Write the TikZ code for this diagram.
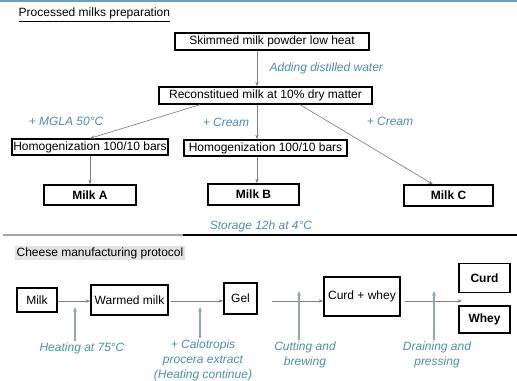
\documentclass[tikz,border=0pt]{standalone}
\usepackage{fontspec}
\setmainfont{Liberation Sans}
\usetikzlibrary{arrows.meta}
\definecolor{labteal}{HTML}{4F8FA3}
\definecolor{arrteal}{HTML}{8AAAB4}
\definecolor{topteal}{HTML}{62A5B7}

\begin{document}
\begin{tikzpicture}[x=0.75pt, y=-0.75pt,
  box/.style={draw, line width=1pt, inner sep=1pt, font=\fontsize{9}{10}\selectfont},
  milkbox/.style={box, font=\fontsize{9}{10}\selectfont\bfseries},
  lab/.style={text=labteal, font=\fontsize{9}{11.25}\selectfont\itshape, align=center, inner sep=1pt},
  conn/.style={draw=gray, line width=0.5pt, -{Stealth[length=3.5pt,width=2.5pt]}},
  upconn/.style={draw=arrteal, line width=1pt, -{Stealth[length=3.5pt,width=3pt]}},
]
\useasboundingbox (0,0) rectangle (517,380);

% frame lines
\draw [topteal, line width=1.2pt] (0,1) -- (517,1);
\draw [gray!70, line width=1.4pt] (3,235) -- (183,235);
\draw [black, line width=1.1pt] (183,235) -- (517,235);

% processed milks
\node [anchor=west, font=\fontsize{9}{10}\selectfont] (title1) at (14,15) {\underline{Processed milks preparation}};

\node [box, minimum width=145.5pt, minimum height=12.75pt] (skim) at (272,41.5) {Skimmed milk powder low heat};
\node [box, minimum width=159.75pt, minimum height=12.75pt] (recon) at (265.5,95.5) {Reconstitued milk at 10\% dry matter};
\node [box, minimum width=117pt, minimum height=12pt] (homA) at (90,147) {Homogenization 100/10 bars};
\node [box, minimum width=122.25pt, minimum height=12pt] (homB) at (265.5,148) {Homogenization 100/10 bars};
\node [milkbox, minimum width=69pt, minimum height=15pt] (milkA) at (90,195) {Milk A};
\node [milkbox, minimum width=68.25pt, minimum height=15.75pt] (milkB) at (253.5,194.5) {Milk B};
\node [milkbox, minimum width=66.75pt, minimum height=15.75pt] (milkC) at (448.5,195.5) {Milk C};

\coordinate (midx) at (257,0);
\coordinate (leftx) at (200,0);
\coordinate (rightx) at (300,0);
\coordinate (cx) at (433,0);

\draw [conn] (skim.south -| midx) -- (recon.north -| midx);
\draw [conn] (recon.south -| leftx) -- (homA.north);
\draw [conn] (recon.south -| midx) -- (homB.north -| midx);
\draw [conn] (recon.south -| rightx) -- (milkC.north -| cx);
\draw [conn] (homA.south) -- (milkA.north);
\draw [conn] (homB.south -| midx) -- (milkB.north -| midx);

\node [lab, anchor=west] (water) at (268,68) {Adding distilled water};
\node [lab] (mgla) at (66,121) {+ MGLA 50°C};
\node [lab] (creamB) at (226,122) {+ Cream};
\node [lab] (creamC) at (390,121) {+ Cream};
\node [lab] (store) at (261,226) {Storage 12h at 4°C};

% cheese protocol
\node [anchor=west, fill=gray!22, inner sep=1pt, font=\fontsize{9}{10}\selectfont] (title2) at (15,253) {Cheese manufacturing protocol};

\node [box, minimum width=30pt, minimum height=18pt] (milk) at (37,300) {Milk};
\node [box, minimum width=57.75pt, minimum height=22.5pt] (warm) at (129.5,300) {Warmed milk};
\node [box, minimum width=24.75pt, minimum height=23.25pt] (gel) at (240.5,298.5) {Gel};
\node [box, minimum width=57pt, minimum height=29.25pt] (cw) at (362,296.5) {Curd + whey};
\node [milkbox, minimum width=38.25pt, minimum height=21.75pt] (curd) at (484.5,278) {Curd};
\node [milkbox, minimum width=38.25pt, minimum height=20.25pt] (whey) at (484.5,319.5) {Whey};

\coordinate (row) at (0,301);
\coordinate (split) at (462,301);

\draw [conn] (milk.east |- row) -- (warm.west |- row);
\draw [conn, shorten <=1.5pt] (warm.east |- row) -- (gel.west |- row);
\draw [conn, shorten <=10.5pt] (gel.east |- row) -- (cw.west |- row);
\draw [conn, shorten <=3pt] (cw.east |- row) -- (split);

\node [lab] (heat) at (82,348) {Heating at 75°C};
\node [lab] (calo) at (203,360) {+ Calotropis\\procera extract\\(Heating continue)};
\node [lab] (cut) at (305,355) {Cutting and\\brewing};
\node [lab] (drain) at (437,355) {Draining and\\pressing};

\coordinate (a1) at (75,307);
\coordinate (a2) at (200,307);
\coordinate (a3) at (299,291);
\coordinate (a4) at (434,291);

\draw [upconn] (heat.north -| a1) -- (a1);
\draw [upconn] (calo.north -| a2) -- (a2);
\draw [upconn] (cut.north -| a3) -- (a3);
\draw [upconn] (drain.north -| a4) -- (a4);

\end{tikzpicture}
\end{document}
